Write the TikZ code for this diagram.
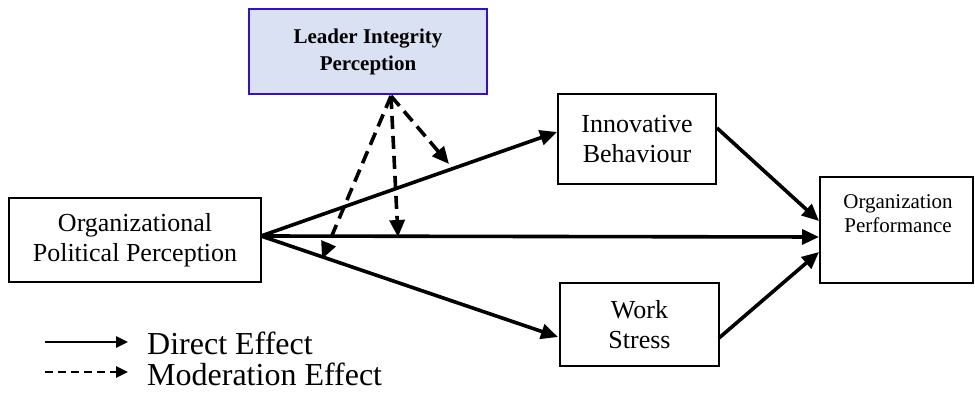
\documentclass[tikz,border=0pt]{standalone}
\usepackage{fontspec}
\setmainfont{Liberation Serif}
\usetikzlibrary{arrows.meta}
\definecolor{leaderfill}{RGB}{217,225,242}
\definecolor{leaderedge}{RGB}{51,17,204}
\begin{document}
\begin{tikzpicture}[x=1pt,y=-1pt,
  box/.style={draw=black,line width=2.6pt,inner sep=0pt,align=center,
    font=\fontsize{26}{30}\selectfont},
  effect/.style={line width=3.6pt,-{Triangle[length=17pt,width=15pt]}},
  moderation/.style={effect,dash pattern=on 13pt off 7pt},
  keyline/.style={line width=2.6pt,-{Triangle[length=12pt,width=11pt]}},
  keydash/.style={keyline,dash pattern=on 8pt off 5pt},
  legendtext/.style={anchor=base west,inner sep=0pt,font=\fontsize{32}{36}\selectfont}]
\useasboundingbox (0,0) rectangle (975,395);

% variables
\node[box,minimum width=252pt,minimum height=84pt] (opp) at (135,240)
  {Organizational\\Political Perception};
\node[box,minimum width=158pt,minimum height=90pt] (ib) at (637,139)
  {Innovative\\Behaviour};
\node[box,minimum width=159pt,minimum height=83pt] (ws) at (639.5,324.5)
  {Work\\Stress};
\node[box,minimum width=153pt,minimum height=106pt] (op) at (896.5,230) {};
\node[inner sep=0pt,align=center,font=\fontsize{21}{24}\selectfont] (optext) at (898,214)
  {Organization\\Performance};
\node[box,draw=leaderedge,fill=leaderfill,minimum width=238pt,minimum height=85pt,
  font=\fontsize{21}{27}\selectfont\bfseries] (lip) at (368,51.5)
  {Leader Integrity\\Perception};

% connector end points
\coordinate (src) at (261,236);
\coordinate (ibin) at (557,132);
\coordinate (opmid) at (819,237);
\coordinate (wsin) at (558,337);
\coordinate (ibout) at (717,128);
\coordinate (opup) at (819,221);
\coordinate (wsout) at (719,338);
\coordinate (oplow) at (819,252);
\coordinate (lipfoot) at (391,96);
\coordinate (modup) at (449,164);
\coordinate (modmid) at (398,237);
\coordinate (modlow) at (322,259);

% direct effects
\draw[effect] (src) -- (ibin);
\draw[effect] (src) -- (opmid);
\draw[effect] (src) -- (wsin);
\draw[effect] (ibout) -- (opup);
\draw[effect] (wsout) -- (oplow);

% moderation effects
\draw[moderation] (lipfoot) -- (modup);
\draw[moderation] (lipfoot) -- (modmid);
\draw[moderation] (lipfoot) -- (modlow);

% legend
\coordinate (la) at (45,342);
\coordinate (lb) at (128,342);
\coordinate (lc) at (45,372);
\coordinate (ld) at (128,372);
\draw[keyline] (la) -- (lb);
\draw[keydash] (lc) -- (ld);
\node[legendtext] (ldirect) at (147,355) {Direct Effect};
\node[legendtext] (lmod) at (147,385) {Moderation Effect};
\end{tikzpicture}
\end{document}
